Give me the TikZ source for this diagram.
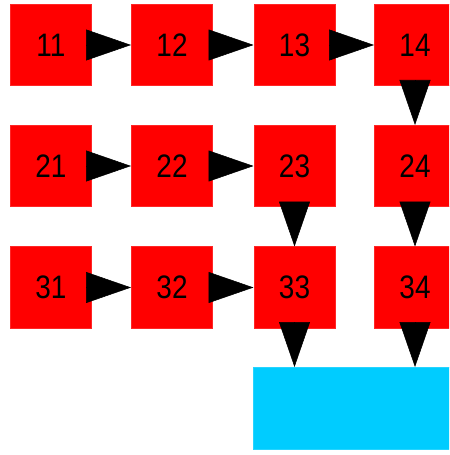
\documentclass[tikz,border=0pt]{standalone}
\usepackage{fontspec}
\setmainfont{Liberation Sans}
\usepackage{graphicx}
\usepackage{tikz}
\usetikzlibrary{arrows.meta, positioning}
\definecolor{cellred}{HTML}{FF0000}
\definecolor{sinkcyan}{HTML}{00CCFF}
\newcommand{\cellnum}[1]{\scalebox{0.86}[1]{#1}}

\begin{document}
\begin{tikzpicture}[x=0.02cm, y=-0.02cm,
    cell/.style={fill=cellred, draw=cellred!85!white, line width=0.3pt,
                 minimum size=1.63cm, inner sep=0pt,
                 font=\fontsize{18.5}{18.5}\selectfont},
    flow/.style={-{Triangle[length=0.9cm, width=0.62cm]}, line width=0.3pt},
]
    \useasboundingbox (0, 0) rectangle (449, 455);
    \clip (0, 0) rectangle (449, 455);
    \fill[white] (0, 0) rectangle (449, 455);

    % === cells ===
    \node[cell] (c11) at (51, 45) {\cellnum{11}};
    \node[cell] (c12) at (172, 45) {\cellnum{12}};
    \node[cell] (c13) at (294.5, 45) {\cellnum{13}};
    \node[cell] (c14) at (415, 45) {\cellnum{14}};

    \node[cell] (c21) at (51, 166) {\cellnum{21}};
    \node[cell] (c22) at (172, 166) {\cellnum{22}};
    \node[cell] (c23) at (294.5, 166) {\cellnum{23}};
    \node[cell] (c24) at (415, 166) {\cellnum{24}};

    \node[cell] (c31) at (51, 287.5) {\cellnum{31}};
    \node[cell] (c32) at (172, 287.5) {\cellnum{32}};
    \node[cell] (c33) at (294.5, 287.5) {\cellnum{33}};
    \node[cell] (c34) at (415, 287.5) {\cellnum{34}};

    % sink
    \node[fill=sinkcyan, draw=sinkcyan!85!white, line width=0.3pt, inner sep=0pt,
          minimum width=4.4cm, minimum height=1.64cm, anchor=north west]
        (sink) at (253, 367) {};

    % === row flows ===
    \draw[flow] (c11) -- (c12);
    \draw[flow] (c12) -- (c13);
    \draw[flow] (c13) -- (c14);
    \draw[flow] (c21) -- (c22);
    \draw[flow] (c22) -- (c23);
    \draw[flow] (c31) -- (c32);
    \draw[flow] (c32) -- (c33);

    % === column flows ===
    \draw[flow] (c14) -- (c24);
    \draw[flow] (c24) -- (c34);
    \draw[flow] (c23) -- (c33);
    \draw[flow] (c33) -- (c33 |- sink.north);
    \draw[flow] (c34) -- (c34 |- sink.north);
\end{tikzpicture}
\end{document}
